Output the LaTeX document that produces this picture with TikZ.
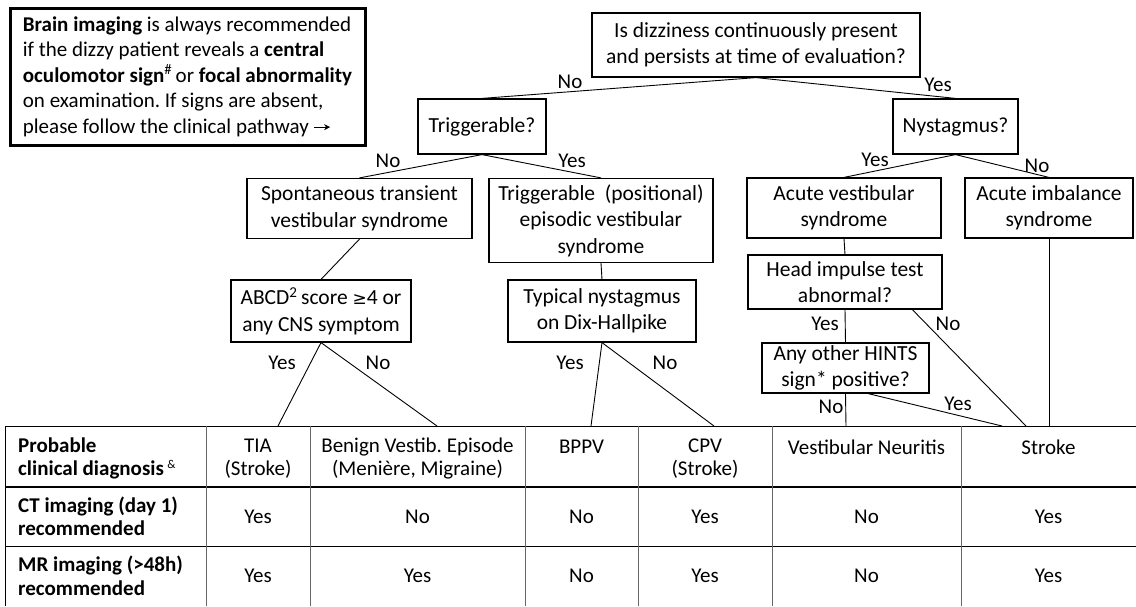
\documentclass[tikz,border=0pt]{standalone}
\usepackage{fontspec}
\setmainfont{Carlito}
\newfontfamily\dejavu{DejaVu Sans}
\usetikzlibrary{arrows.meta,calc}
\frenchspacing
\begin{document}
\begin{tikzpicture}[x=1pt,y=-1pt,
  box/.style={draw,line width=1.2pt,inner sep=0pt,align=center,font=\fontsize{21.5}{26.5}\selectfont},
  note/.style={draw,line width=3pt,inner sep=0pt,align=left,font=\fontsize{21}{25.5}\selectfont},
  lbl/.style={font=\fontsize{21}{24}\selectfont,inner sep=0pt},
  conn/.style={line width=0.9pt},
  tcell/.style={font=\fontsize{21}{23.5}\selectfont,align=center,inner sep=0pt},
  thead/.style={font=\fontsize{21}{23.5}\selectfont\bfseries,align=left,inner sep=0pt,anchor=west},
  rule/.style={line width=0.9pt},
  vrule/.style={line width=1pt,black!60},
]
\useasboundingbox (0,0) rectangle (1136,606);

% note box
\node[note,minimum width=355pt,minimum height=137pt] (note) at (187.5,76.5)
 {\textbf{Brain imaging} is always recommended\\
  if the dizzy patient reveals a \textbf{central}\\
  \textbf{oculomotor sign}\textsuperscript{\#}\,or \textbf{focal abnormality}\\
  on examination. If signs are absent,\\
  please follow the clinical pathway \tikz[baseline=-0.6ex]\draw[line width=1.1pt,-{Stealth[length=6pt,width=6pt]}] (0pt,0pt)--(16pt,0pt);};

% flowchart boxes
\node[box,minimum width=328pt,minimum height=64pt] (q1) at (756,45) {Is dizziness continuously present\\and persists at time of evaluation?};
\node[box,minimum width=128pt,minimum height=55pt] (trig) at (482,126.5) {Triggerable?};
\node[box,minimum width=125pt,minimum height=55pt] (nyst) at (955.5,126.5) {Nystagmus?};
\node[box,minimum width=225pt,minimum height=60pt] (spont) at (359.5,208.5) {Spontaneous transient\\vestibular syndrome};
\node[box,minimum width=224pt,minimum height=84pt] (tpos) at (601,220.5) {Triggerable~ (positional)\\episodic vestibular\\syndrome};
\node[box,minimum width=194pt,minimum height=60pt] (avs) at (844,208) {Acute vestibular\\syndrome};
\node[box,minimum width=168pt,minimum height=60pt] (ais) at (1049,208) {Acute imbalance\\syndrome};
\node[box,minimum width=180pt,minimum height=62pt] (abcd) at (321,311) {ABCD\textsuperscript{2}\,score {\dejavu\fontsize{17}{20}\selectfont ≥}4 or\\any CNS symptom};
\node[box,minimum width=188pt,minimum height=62pt] (typ) at (602,311) {Typical nystagmus\\on Dix-Hallpike};
\node[box,minimum width=194pt,minimum height=54pt] (hit) at (845,282) {Head impulse test\\abnormal?};
\node[box,minimum width=167pt,minimum height=50pt] (hints) at (845.5,368) {Any other HINTS\\sign* positive?};

% table anchor coordinates
\coordinate (tTIA) at (278,426);
\coordinate (tBen) at (437,426);
\coordinate (tBPPV) at (591,426);
\coordinate (tCPV) at (714,426);
\coordinate (tVN) at (846,426);
\coordinate (tS1) at (1002,426);
\coordinate (tS2) at (1026,426);
\coordinate (tS3) at (1049,426);

% connectors
\draw[conn] (q1.south) -- (trig.north);
\draw[conn] (q1.south) -- (nyst.north);
\draw[conn] (trig.south) -- (spont.north);
\draw[conn] (trig.south) -- (tpos.north);
\draw[conn] (nyst.south) -- (avs.north);
\draw[conn] (nyst.south) -- (ais.north);
\draw[conn] (spont.south) -- (abcd.north);
\draw[conn] (tpos.south) -- (typ.north);
\draw[conn] (avs.south) -- (hit.north);
\draw[conn] (abcd.south) -- (tTIA);
\draw[conn] (abcd.south) -- (tBen);
\draw[conn] (typ.south) -- (tBPPV);
\draw[conn] (typ.south) -- (tCPV);
\draw[conn] (hit.south) -- (hints.north);
\draw[conn] ($(hit.south)!0.69!(hit.south east)$) -- (tS2);
\draw[conn] (hints.south) -- (tVN);
\draw[conn] ($(hints.south)!0.27!(hints.south east)$) -- (tS1);
\draw[conn] (ais.south) -- (tS3);

% labels
\node[lbl] (l1) at (570,82) {No};
\node[lbl] (l2) at (938,85) {Yes};
\node[lbl] (l3) at (388,161) {No};
\node[lbl] (l4) at (572,161) {Yes};
\node[lbl] (l5) at (875,160) {Yes};
\node[lbl] (l6) at (1037,166) {No};
\node[lbl] (l7) at (282,363) {Yes};
\node[lbl] (l8) at (378,363) {No};
\node[lbl] (l9) at (570,363) {Yes};
\node[lbl] (l10) at (665,363) {No};
\node[lbl] (l11) at (825,324) {Yes};
\node[lbl] (l12) at (948,324) {No};
\node[lbl] (l13) at (831,407) {No};
\node[lbl] (l14) at (958,404) {Yes};

% table rules
\draw[rule] (5,426) -- (1136,426);
\draw[line width=2.6pt] (5,487) -- (1136,487);
\draw[rule] (5,546) -- (1136,546);
\draw[rule] (5,426) -- (5,606);
\foreach \x in {206,310,525,638,772,961} \draw[vrule] (\x,426) -- (\x,606);

% table text
\node[thead] (h0) at (18,458.5) {Probable\\clinical diagnosis\,\textsuperscript{\normalfont\fontsize{12}{12}\selectfont\&}};
\node[thead] (h1) at (18,516.5) {CT imaging (day 1)\\recommended};
\node[thead] (h2) at (18,576) {MR imaging (>48h)\\recommended};

\node[tcell] (c01) at (258,458.5) {TIA\\(Stroke)};
\node[tcell] (c02) at (417.5,458.5) {Benign Vestib. Episode\\(Menière, Migraine)};
\node[tcell] (c03) at (581.5,447) {BPPV};
\node[tcell] (c04) at (705,458.5) {CPV\\(Stroke)};
\node[tcell] (c05) at (866.5,447) {Vestibular Neuritis};
\node[tcell] (c06) at (1048.5,447) {Stroke};

\node[tcell] (c11) at (258,516.5) {Yes};
\node[tcell] (c12) at (417.5,516.5) {No};
\node[tcell] (c13) at (581.5,516.5) {No};
\node[tcell] (c14) at (705,516.5) {Yes};
\node[tcell] (c15) at (866.5,516.5) {No};
\node[tcell] (c16) at (1048.5,516.5) {Yes};

\node[tcell] (c21) at (258,576) {Yes};
\node[tcell] (c22) at (417.5,576) {Yes};
\node[tcell] (c23) at (581.5,576) {No};
\node[tcell] (c24) at (705,576) {Yes};
\node[tcell] (c25) at (866.5,576) {No};
\node[tcell] (c26) at (1048.5,576) {Yes};
\end{tikzpicture}
\end{document}
